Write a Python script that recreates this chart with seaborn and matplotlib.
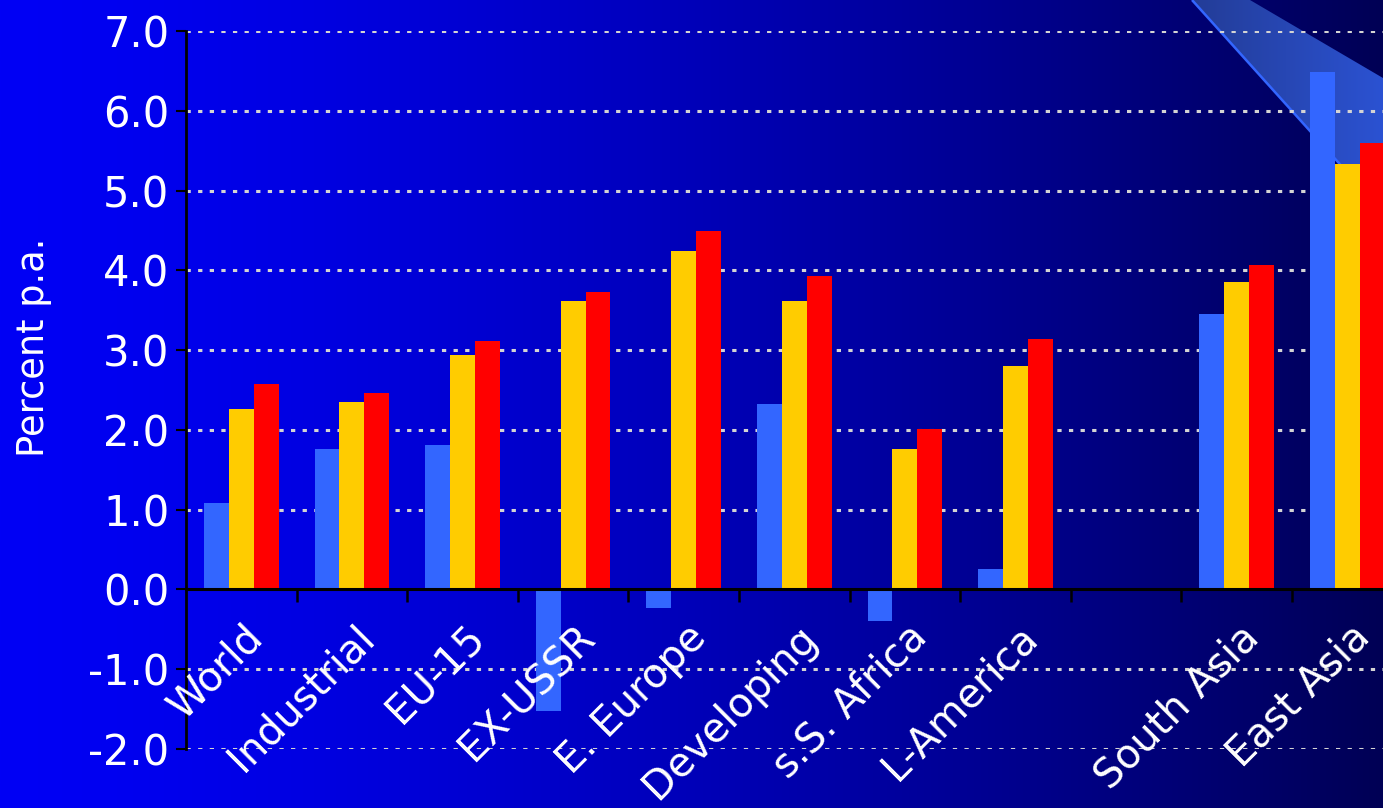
import numpy as np
import pandas as pd
import matplotlib
matplotlib.use("Agg")
import matplotlib.pyplot as plt
import seaborn as sns
from matplotlib.transforms import ScaledTranslation
from matplotlib.patches import Polygon

# ---------------- data ----------------
regions = ["World", "Industrial", "EU-15", "EX-USSR", "E. Europe", "Developing",
           "s.S. Africa", "L-America", " ", "South Asia", "East Asia"]
periods = ["Series 1", "Series 2", "Series 3"]
series1 = [1.08, 1.76, 1.81, -1.52, -0.23, 2.32, -0.40, 0.26, None, 3.45, 6.49]
series2 = [2.26, 2.35, 2.94, 3.61, 4.24, 3.61, 1.76, 2.80, None, 3.86, 5.33]
series3 = [2.57, 2.46, 3.11, 3.73, 4.49, 3.93, 2.01, 3.14, None, 4.07, 5.60]
ytick_values = [-2, -1, 0, 1, 2, 3, 4, 5, 6, 7]
ytick_labels = ["-2.0", "-1.0", "0.0", "1.0", "2.0", "3.0", "4.0", "5.0", "6.0", "7.0"]
colors = ["#3366FF", "#FFCC00", "#FF0000"]

rows = []
for p, vals in zip(periods, [series1, series2, series3]):
    for r, v in zip(regions, vals):
        if v is not None:
            rows.append({"region": r, "period": p, "value": v})
df = pd.DataFrame(rows)

# ---------------- figure ----------------
W, H = 1383, 808
fig = plt.figure(figsize=(W / 100, H / 100), dpi=100)

# background gradient
bg = fig.add_axes([0, 0, 1, 1], zorder=0)
bg.set_xlim(0, W)
bg.set_ylim(H, 0)
bg.axis("off")
t = np.linspace(0, 1, 600)
blue = (245 - 160 * t ** 1.4) / 255.0
grad = np.zeros((2, 600, 3))
grad[:, :, 2] = blue
bg.imshow(grad, extent=(0, W, H, 0), aspect="auto", interpolation="bilinear")

# decorative diagonal band top-right
band_pts = [(1192, 0), (1383, 212), (1383, 78), (1250, 0)]
poly = Polygon(band_pts, closed=True, facecolor="none", edgecolor="none")
bg.add_patch(poly)
bt = np.linspace(0, 1, 200)
band = np.zeros((2, 200, 3))
band[:, :, 0] = (35 + 8 * bt) / 255
band[:, :, 1] = (60 + 22 * bt) / 255
band[:, :, 2] = (150 + 60 * bt) / 255
im = bg.imshow(band, extent=(1190, W, 215, 0), aspect="auto", interpolation="bilinear")
im.set_clip_path(poly)
bg.plot([1192, 1383], [0, 212], color="#3366FF", lw=1.8, solid_capstyle="butt")
bg.set_xlim(0, W)
bg.set_ylim(H, 0)

# main axes
left, right = 186, 1402.6
top, bottom = 31, 749
ax = fig.add_axes([left / W, 1 - bottom / H, (right - left) / W, (bottom - top) / H], zorder=1)
ax.set_facecolor("none")

sns.barplot(data=df, x="region", y="value", hue="period", order=regions,
            hue_order=periods, palette=colors, saturation=1, width=0.675,
            errorbar=None, legend=False, ax=ax, zorder=2)

ax.set_xlim(-0.5, len(regions) - 0.5)
ax.set_ylim(-2, 7)

# dotted horizontal gridlines behind the bars
for v in ytick_values:
    if v != 0:
        ax.axhline(v, color="#d4d4d4", linestyle=(0, (1.4, 2.4)), linewidth=2.2, zorder=1)
ax.grid(False)
ax.set_axisbelow(False)

# spines
for s in ["top", "right"]:
    ax.spines[s].set_visible(False)
ax.spines["bottom"].set_position(("data", 0))
ax.spines["bottom"].set_color("black")
ax.spines["bottom"].set_linewidth(2.2)
ax.spines["bottom"].set_zorder(3)
ax.spines["left"].set_color("black")
ax.spines["left"].set_linewidth(2.0)

# y ticks
ax.set_yticks(ytick_values)
ax.set_yticklabels(ytick_labels)
ax.tick_params(axis="y", direction="out", length=7, width=1.5, color="black",
               labelcolor="white", labelsize=30, pad=5)

# x ticks: marks at boundaries, labels at centers
ax.set_xticks([i + 0.5 for i in range(len(regions) - 1)])
ax.set_xticklabels([])
ax.set_xticks(range(len(regions)), minor=True)
ax.set_xticklabels(regions, minor=True, rotation=45, ha="right",
                   rotation_mode="anchor", color="white", fontsize=29)
ax.tick_params(axis="x", which="major", direction="out", length=9, width=1.8, color="black")
ax.tick_params(axis="x", which="minor", length=0, pad=20)
offset = ScaledTranslation(2 / 100, 0, fig.dpi_scale_trans)
for lab in ax.get_xticklabels(minor=True):
    lab.set_transform(lab.get_transform() + offset)
ax.set_xlabel("")

ax.set_ylabel("Percent p.a.", color="white", fontsize=26.5)
ax.yaxis.set_label_coords(-0.110, 0.56)

fig.savefig("out.png", dpi=100)
